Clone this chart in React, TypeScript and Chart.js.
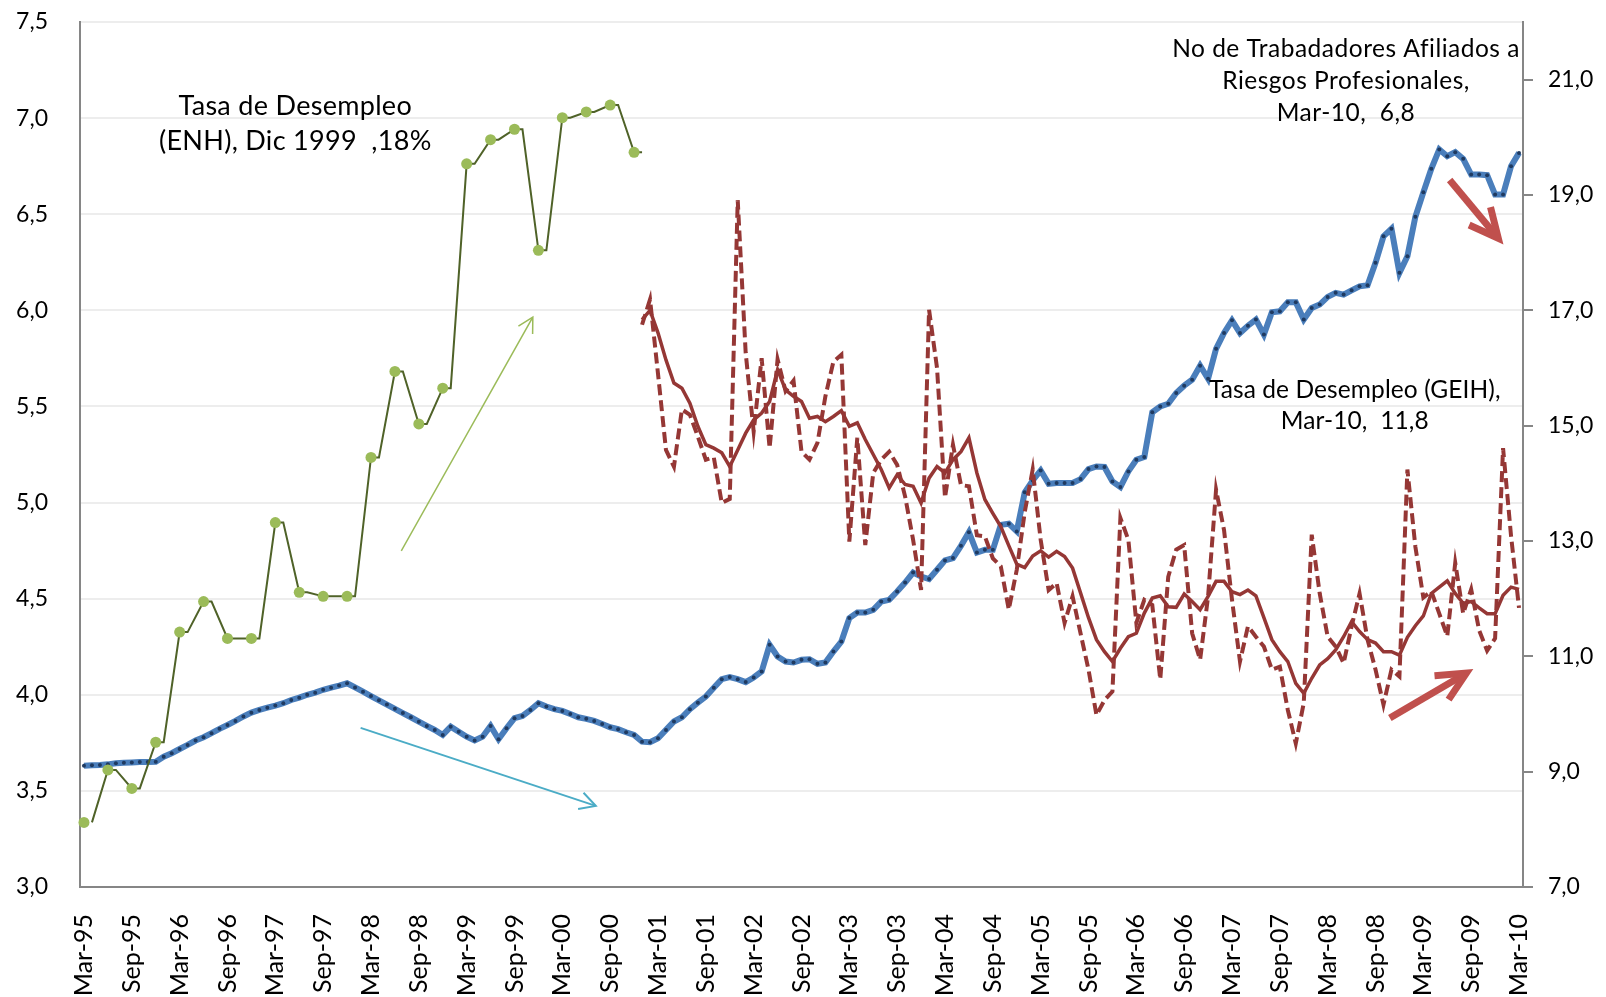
import React, { useEffect, useRef } from 'react';
import { Chart, registerables } from 'chart.js';

Chart.register(...registerables);

// ---------- categories (monthly, Mar-95 .. Mar-10) ----------
const MONTH_NAMES = ['Jan', 'Feb', 'Mar', 'Apr', 'May', 'Jun', 'Jul', 'Aug', 'Sep', 'Oct', 'Nov', 'Dec'];
const categories: string[] = Array.from({ length: 181 }, (_, i) => {
  const m = (2 + i) % 12;
  const y = 1995 + Math.floor((2 + i) / 12);
  return MONTH_NAMES[m] + '-' + String(y % 100).padStart(2, '0');
});

// ---------- tick labels ----------
const leftTickValues = [3, 3.5, 4, 4.5, 5, 5.5, 6, 6.5, 7, 7.5];
const rightTickValues = [7, 9, 11, 13, 15, 17, 19, 21];

// ---------- series ----------
// ENH unemployment rate, quarterly from Mar-95 to Dec-00 (right axis, %)
const enhQuarterly = [
  8.12, 9.03, 8.71, 9.51, 11.42, 11.95, 11.31, 11.31, 13.32, 12.11, 12.04, 12.04,
  14.45, 15.94, 15.03, 15.65, 19.54, 19.96, 20.14, 18.04, 20.34, 20.44, 20.56, 19.74,
];

// Workers affiliated to professional risks, monthly Mar-95 .. Mar-10 (left axis, millions)
const afiliados = [
  3.631, 3.633, 3.635, 3.638, 3.644, 3.646, 3.648, 3.650, 3.650, 3.652,
  3.678, 3.696, 3.718, 3.739, 3.762, 3.779, 3.800, 3.823, 3.843, 3.864,
  3.887, 3.907, 3.921, 3.933, 3.944, 3.956, 3.973, 3.985, 4.000, 4.011,
  4.026, 4.037, 4.048, 4.060, 4.038, 4.016, 3.993, 3.971, 3.949, 3.927,
  3.905, 3.883, 3.860, 3.838, 3.817, 3.791, 3.834, 3.808, 3.782, 3.762,
  3.782, 3.838, 3.769, 3.826, 3.878, 3.890, 3.921, 3.956, 3.939, 3.925,
  3.916, 3.900, 3.883, 3.875, 3.864, 3.848, 3.831, 3.821, 3.805, 3.791,
  3.756, 3.753, 3.774, 3.817, 3.861, 3.883, 3.925, 3.959, 3.991, 4.037,
  4.081, 4.092, 4.081, 4.066, 4.090, 4.121, 4.260, 4.199, 4.173, 4.168,
  4.182, 4.185, 4.161, 4.168, 4.225, 4.277, 4.399, 4.428, 4.428, 4.442,
  4.485, 4.494, 4.537, 4.584, 4.636, 4.615, 4.602, 4.650, 4.699, 4.711,
  4.775, 4.846, 4.740, 4.754, 4.754, 4.884, 4.890, 4.850, 5.053, 5.115,
  5.167, 5.098, 5.102, 5.102, 5.102, 5.122, 5.174, 5.188, 5.185, 5.110,
  5.081, 5.162, 5.223, 5.237, 5.470, 5.500, 5.514, 5.570, 5.608, 5.639,
  5.712, 5.644, 5.800, 5.882, 5.948, 5.882, 5.920, 5.952, 5.874, 5.990,
  5.995, 6.042, 6.042, 5.952, 6.012, 6.030, 6.070, 6.091, 6.082, 6.104,
  6.125, 6.130, 6.247, 6.385, 6.424, 6.195, 6.281, 6.487, 6.614, 6.736,
  6.837, 6.802, 6.823, 6.788, 6.706, 6.706, 6.703, 6.602, 6.602, 6.750,
  6.819,
];

// GEIH unemployment rate, monthly Jan-01 .. Mar-10 (right axis, %)
const geihStartIndex = 70; // Jan-01
const geihMonthly = [
  16.75, 17.19, 15.90, 14.58, 14.29, 15.28, 15.19, 14.81, 14.41, 14.45,
  13.66, 13.73, 18.91, 16.26, 14.90, 16.17, 14.61, 16.15, 15.60, 15.78,
  14.55, 14.41, 14.70, 15.51, 16.11, 16.23, 12.99, 14.79, 12.93, 14.18,
  14.41, 14.55, 14.32, 13.77, 13.02, 12.15, 17.01, 16.00, 13.75, 14.67,
  13.97, 13.95, 13.10, 13.08, 12.70, 12.56, 11.81, 12.50, 13.50, 14.24,
  13.02, 12.15, 12.27, 11.58, 12.04, 11.40, 10.77, 9.98, 10.24, 10.39,
  13.40, 13.02, 11.58, 11.98, 11.89, 10.60, 12.38, 12.85, 12.93, 11.40,
  10.94, 12.04, 13.89, 13.19, 11.98, 10.91, 11.52, 11.34, 11.17, 10.77,
  10.82, 10.07, 9.49, 10.19, 13.11, 12.09, 11.34, 11.17, 10.88, 11.52,
  12.09, 11.29, 10.77, 10.16, 10.77, 10.65, 14.24, 12.90, 12.02, 12.13,
  11.74, 11.35, 12.62, 11.74, 12.16, 11.45, 11.10, 11.31, 14.61, 13.09,
  11.84,
];
// GEIH smoothed trend, monthly Jan-01 .. Mar-10 (right axis, %)
const geihTrend = [
  16.84, 17.00, 16.61, 16.14, 15.74, 15.65, 15.39, 14.99, 14.67, 14.61,
  14.53, 14.29, 14.58, 14.87, 15.10, 15.22, 15.42, 15.97, 15.62, 15.51,
  15.42, 15.13, 15.16, 15.07, 15.16, 15.26, 14.99, 15.05, 14.76, 14.50,
  14.24, 13.92, 14.15, 13.98, 13.95, 13.66, 14.09, 14.29, 14.18, 14.41,
  14.55, 14.79, 14.18, 13.72, 13.48, 13.25, 12.92, 12.60, 12.54, 12.74,
  12.83, 12.72, 12.82, 12.73, 12.53, 12.10, 11.67, 11.29, 11.08, 10.91,
  11.14, 11.34, 11.40, 11.75, 12.01, 12.05, 11.86, 11.85, 12.08, 11.95,
  11.81, 12.04, 12.30, 12.30, 12.12, 12.07, 12.15, 12.05, 11.67, 11.29,
  11.08, 10.91, 10.53, 10.36, 10.62, 10.85, 10.96, 11.11, 11.34, 11.60,
  11.43, 11.29, 11.23, 11.08, 11.08, 11.02, 11.33, 11.53, 11.70, 12.09,
  12.20, 12.31, 12.09, 11.92, 11.95, 11.84, 11.74, 11.74, 12.06, 12.20,
  12.16,
];

// ---------- annotations (positions in data units: category index, axis value) ----------
const arrows = [
  { axis: 'y', x0: 39.8, y0: 4.749, x1: 56.3, y1: 5.965, color: '#9BBB59', width: 1.5, head: 17, spread: 0.5 },
  { axis: 'y', x0: 34.7, y0: 3.828, x1: 64.2, y1: 3.422, color: '#4BACC6', width: 2, head: 18, spread: 0.5 },
  { axis: 'y1', x0: 171.3, y0: 19.26, x1: 177.4, y1: 18.25, color: '#C0504D', width: 7, head: 32, spread: 0.45 },
  { axis: 'y1', x0: 163.8, y0: 9.93, x1: 173.4, y1: 10.71, color: '#C0504D', width: 7, head: 32, spread: 0.45 },
];
const textBlocks = [
  { x: 26.5, y: 7.062, size: 27, spacing: 0.3, gap: 35, lines: ['Tasa de Desempleo', '(ENH), Dic 1999  ,18%'] },
  { x: 158.3, y: 7.357, size: 24.5, spacing: 0.5, gap: 31.7, lines: ['No de Trabadadores Afiliados a', 'Riesgos Profesionales,', 'Mar-10,  6,8'] },
  { x: 159.4, y: 5.587, size: 24.5, spacing: 0.1, gap: 31.7, lines: ['Tasa de Desempleo (GEIH),', 'Mar-10,  11,8'] },
];

const FONT = 'Lato';

const fmt = (v: number) => v.toFixed(1).replace('.', ',');

const overlayPlugin = {
  id: 'overlay',
  afterDatasetsDraw(chart: any) {
    const ctx = chart.ctx as CanvasRenderingContext2D;
    const xs = chart.scales.x;
    arrows.forEach((a) => {
      const ys = chart.scales[a.axis];
      const px0 = xs.getPixelForValue(a.x0);
      const py0 = ys.getPixelForValue(a.y0);
      const px1 = xs.getPixelForValue(a.x1);
      const py1 = ys.getPixelForValue(a.y1);
      const ang = Math.atan2(py1 - py0, px1 - px0);
      ctx.save();
      ctx.strokeStyle = a.color;
      ctx.lineWidth = a.width;
      ctx.lineCap = 'butt';
      ctx.lineJoin = 'miter';
      ctx.beginPath();
      ctx.moveTo(px0, py0);
      ctx.lineTo(px1 - Math.cos(ang) * a.width * 0.8, py1 - Math.sin(ang) * a.width * 0.8);
      ctx.stroke();
      ctx.beginPath();
      ctx.moveTo(px1 - a.head * Math.cos(ang - a.spread), py1 - a.head * Math.sin(ang - a.spread));
      ctx.lineTo(px1, py1);
      ctx.lineTo(px1 - a.head * Math.cos(ang + a.spread), py1 - a.head * Math.sin(ang + a.spread));
      ctx.stroke();
      ctx.restore();
    });
    const yl = chart.scales.y;
    textBlocks.forEach((t) => {
      const cx = xs.getPixelForValue(t.x);
      const cy = yl.getPixelForValue(t.y);
      ctx.save();
      ctx.font = `${t.size}px ${FONT}`;
      (ctx as any).letterSpacing = `${t.spacing}px`;
      ctx.fillStyle = '#000000';
      ctx.textAlign = 'center';
      ctx.textBaseline = 'middle';
      t.lines.forEach((line, k) => ctx.fillText(line, cx, cy + k * t.gap));
      ctx.restore();
    });
  },
};

export default function App() {
  const canvasRef = useRef<HTMLCanvasElement | null>(null);

  useEffect(() => {
    let chart: Chart | null = null;
    let cancelled = false;

    const build = () => {
      if (cancelled || !canvasRef.current) return;
      const n = categories.length;
      const greenDots: (number | null)[] = new Array(n).fill(null);
      const greenLine: (number | null)[] = new Array(n).fill(null);
      enhQuarterly.forEach((v, k) => {
        greenDots[3 * k] = v;
        if (k > 0) greenLine[3 * k] = v;
        greenLine[3 * k + 1] = v;
      });
      const pad: null[] = new Array(geihStartIndex).fill(null);
      const geihM = (pad as (number | null)[]).concat(geihMonthly);
      const geihT = (pad as (number | null)[]).concat(geihTrend);

      chart = new Chart(canvasRef.current, {
        type: 'line',
        data: {
          labels: categories,
          datasets: [
            {
              label: 'ENH puntos',
              data: greenDots,
              yAxisID: 'y1',
              showLine: false,
              pointRadius: 5.5,
              pointBackgroundColor: '#9BBB59',
              pointBorderWidth: 0,
              borderColor: '#9BBB59',
            },
            {
              label: 'Tasa de Desempleo (ENH)',
              data: greenLine,
              yAxisID: 'y1',
              borderColor: '#4F6228',
              borderWidth: 2,
              pointRadius: 0,
              spanGaps: true,
            },
            {
              label: 'Tasa de Desempleo (GEIH)',
              data: geihM,
              yAxisID: 'y1',
              borderColor: '#953735',
              borderWidth: 4,
              borderDash: [11, 5],
              pointRadius: 0,
            },
            {
              label: 'Tendencia GEIH',
              data: geihT,
              yAxisID: 'y1',
              borderColor: '#953735',
              borderWidth: 3.5,
              pointRadius: 0,
            },
            {
              label: 'No de Trabajadores Afiliados a Riesgos Profesionales',
              data: afiliados,
              yAxisID: 'y',
              borderColor: '#4A7EBB',
              borderWidth: 6,
              pointRadius: 2,
              pointBackgroundColor: '#1F3A60',
              pointBorderWidth: 0,
            },
          ],
        },
        options: {
          responsive: false,
          animation: false,
          events: [],
          layout: { padding: { top: 22, left: 0, right: 0, bottom: 0 } },
          plugins: {
            legend: { display: false },
            tooltip: { enabled: false },
            title: { display: false },
          },
          scales: {
            x: {
              type: 'category',
              offset: true,
              grid: { display: false, drawTicks: false },
              border: { display: true, color: '#868686', width: 2 },
              ticks: {
                autoSkip: false,
                maxRotation: 90,
                minRotation: 90,
                padding: 27,
                color: '#000000',
                font: { family: FONT, size: 25 },
                callback: (_v: any, i: number) => (i % 6 === 0 ? categories[i] : ''),
              },
              afterFit: (s: any) => {
                s.height = 110;
                s.paddingLeft = 0;
                s.paddingRight = 0;
              },
            },
            y: {
              position: 'left',
              min: 3,
              max: 7.5,
              afterBuildTicks: (s: any) => {
                s.ticks = leftTickValues.map((v) => ({ value: v }));
              },
              grid: { color: '#EDEDED', lineWidth: 2, drawTicks: false },
              border: { display: true, color: '#868686', width: 2 },
              ticks: {
                padding: 32,
                color: '#000000',
                font: { family: FONT, size: 23 },
                callback: (v: any) => fmt(Number(v)),
              },
              afterFit: (s: any) => {
                s.width = 80;
                s.paddingTop = 0;
                s.paddingBottom = 0;
              },
            },
            y1: {
              position: 'right',
              min: 7,
              max: 22,
              afterBuildTicks: (s: any) => {
                s.ticks = rightTickValues.map((v) => ({ value: v }));
              },
              grid: { drawOnChartArea: false, drawTicks: true, tickLength: 10, color: '#868686', lineWidth: 2 },
              border: { display: true, color: '#868686', width: 2 },
              ticks: {
                padding: 15,
                color: '#000000',
                font: { family: FONT, size: 23 },
                callback: (v: any) => fmt(Number(v)),
              },
              afterFit: (s: any) => {
                s.width = 83;
                s.paddingTop = 0;
                s.paddingBottom = 0;
              },
            },
          },
        },
        plugins: [overlayPlugin],
      });
    };

    if ((document as any).fonts && (document as any).fonts.load) {
      (document as any).fonts.load(`22px ${FONT}`).then(build, build);
    } else {
      build();
    }

    return () => {
      cancelled = true;
      if (chart) chart.destroy();
    };
  }, []);

  return (
    <div style={{ position: 'absolute', left: 0, top: 0, width: 1606, height: 997, background: '#ffffff' }}>
      <canvas ref={canvasRef} width={1606} height={997} style={{ display: 'block' }} />
    </div>
  );
}
